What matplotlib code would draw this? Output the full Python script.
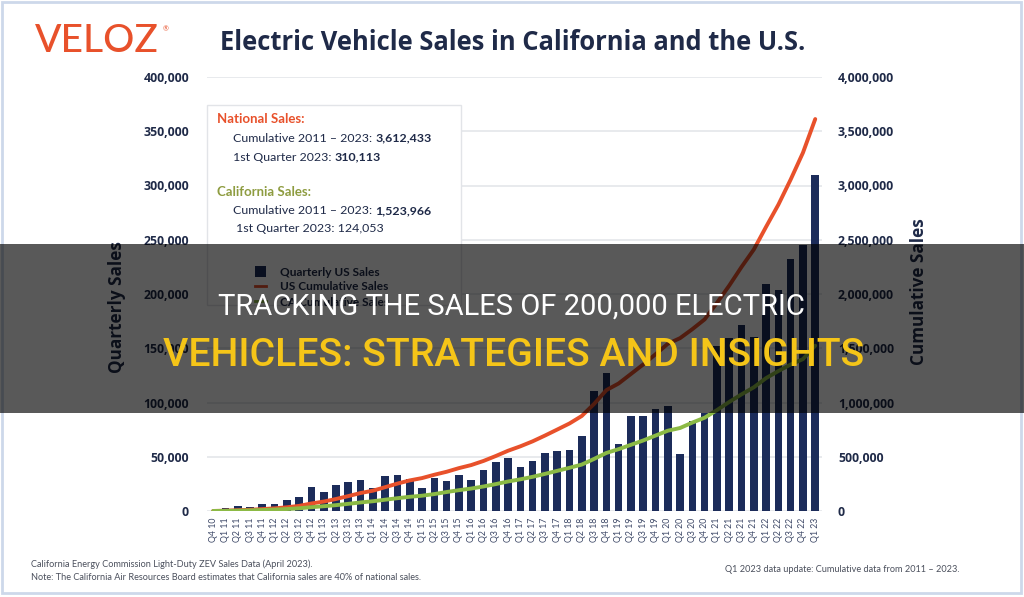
import matplotlib
matplotlib.use("Agg")
import matplotlib.pyplot as plt
from matplotlib.patches import Rectangle
from matplotlib.lines import Line2D
from matplotlib.ticker import FuncFormatter
import numpy as np

quarters = ["Q4 10",
            "Q1 11", "Q2 11", "Q3 11", "Q4 11",
            "Q1 12", "Q2 12", "Q3 12", "Q4 12",
            "Q1 13", "Q2 13", "Q3 13", "Q4 13",
            "Q1 14", "Q2 14", "Q3 14", "Q4 14",
            "Q1 15", "Q2 15", "Q3 15", "Q4 15",
            "Q1 16", "Q2 16", "Q3 16", "Q4 16",
            "Q1 17", "Q2 17", "Q3 17", "Q4 17",
            "Q1 18", "Q2 18", "Q3 18", "Q4 18",
            "Q1 19", "Q2 19", "Q3 19", "Q4 19",
            "Q1 20", "Q2 20", "Q3 20", "Q4 20",
            "Q1 21", "Q2 21", "Q3 21", "Q4 21",
            "Q1 22", "Q2 22", "Q3 22", "Q4 22",
            "Q1 23"]

us_quarterly = [300, 2500, 4300, 4000, 6500, 6800, 9800, 13200, 22100, 17500,
                23700, 26700, 28300, 21500, 32500, 33000, 29200, 21500, 30700, 27500,
                33500, 28200, 38000, 45400, 48700, 40600, 46100, 53000, 55500, 56200,
                69100, 110600, 127500, 61400, 87600, 87600, 93700, 96800, 52200, 82900,
                90000, 152000, 159500, 171500, 160700, 209500, 204000, 231800, 245500, 310113]

us_cumulative = [300, 2800, 7100, 11100, 17600, 24400, 34200, 47400, 69500, 87000,
                 110700, 137400, 165700, 187200, 219700, 252700, 281900, 303400, 334100, 361600,
                 395100, 423300, 461300, 506700, 555400, 596000, 642100, 695100, 750600, 806800,
                 875900, 986500, 1114000, 1175400, 1263000, 1350600, 1444300, 1541100, 1593300, 1676200,
                 1766200, 1918200, 2077700, 2249200, 2409900, 2619400, 2823400, 3055200, 3302300, 3612433]

ca_cumulative = [300, 1500, 3500, 6000, 9000, 13000, 18000, 25000, 35000, 44000,
                 54000, 66000, 79000, 90000, 104000, 118000, 131000, 141000, 156000, 175000,
                 192000, 207000, 226000, 248000, 272000, 292000, 315000, 342000, 370000, 398000,
                 428000, 480000, 535000, 570000, 610000, 650000, 695000, 740000, 765000, 815000,
                 860000, 930000, 1005000, 1075000, 1140000, 1225000, 1290000, 1350000, 1400000, 1523966]

left_ticks = [0, 50000, 100000, 150000, 200000, 250000, 300000, 350000, 400000]
right_ticks = [0, 500000, 1000000, 1500000, 2000000, 2500000, 3000000, 3500000, 4000000]

NAVY = "#1c2c5a"
RED = "#e8512b"
GREEN = "#8cba45"
OLIVE = "#8e9c40"
TXT = "#1f2a48"

W, H = 1024, 597
fig = plt.figure(figsize=(W / 100, H / 100), dpi=100)
fig.patch.set_facecolor("white")

def fx(px):
    return px / W

def fy(py):
    return 1 - py / H

ax = fig.add_axes([fx(207), fy(511), fx(822) - fx(207), fy(77) - fy(511)])
x = np.arange(len(quarters))
ax.bar(x, us_quarterly, width=0.62, color=NAVY, zorder=2)
ax.set_xlim(-0.5, len(quarters) - 0.45)
ax.set_ylim(0, 400000)
ax.set_yticks(left_ticks)
ax.yaxis.set_major_formatter(FuncFormatter(lambda v, p: f"{int(v):,}"))
ax.grid(axis="y", color="#e4e6ea", linewidth=1.2, zorder=0)
ax.set_axisbelow(True)
ax.set_xticks(x)
ax.set_xticklabels(quarters, rotation=90, fontsize=6.3, color="#3c4766", family="Lato")
for s in ax.spines.values():
    s.set_visible(False)
ax.tick_params(axis="both", length=0)
ax.tick_params(axis="x", pad=5)
ax.tick_params(axis="y", pad=13, labelsize=8.8, labelcolor=TXT)
for t in ax.get_yticklabels():
    t.set_fontfamily("Open Sans")
    t.set_fontweight("bold")

ax2 = ax.twinx()
ax2.plot(x, us_cumulative, color=RED, linewidth=2.8, solid_capstyle="round", zorder=3)
ax2.plot(x, ca_cumulative, color=GREEN, linewidth=2.8, solid_capstyle="round", zorder=3)
ax2.set_ylim(0, 4000000)
ax2.set_yticks(right_ticks)
ax2.yaxis.set_major_formatter(FuncFormatter(lambda v, p: f"{int(v):,}"))
for s in ax2.spines.values():
    s.set_visible(False)
ax2.tick_params(axis="both", length=0)
ax2.tick_params(axis="y", pad=11.5, labelsize=8.8, labelcolor=TXT)
for t in ax2.get_yticklabels():
    t.set_fontfamily("Open Sans")
    t.set_fontweight("bold")

# axis titles
fig.text(fx(117), fy(307), "Quarterly Sales", rotation=90, ha="center", va="center",
         fontsize=12.3, fontweight="bold", color=TXT, family="Open Sans")
fig.text(fx(919), fy(292), "Cumulative Sales", rotation=90, ha="center", va="center",
         fontsize=12.3, fontweight="bold", color=TXT, family="Open Sans")

# header
fig.text(fx(35), fy(41), "VELOZ", ha="left", va="center", fontsize=28, color=RED,
         family="Lato", fontweight="medium")
fig.text(fx(163), fy(29), "®", ha="left", va="center", fontsize=5, color=RED, family="Lato")
fig.text(fx(220), fy(43), "Electric Vehicle Sales in California and the U.S.", ha="left",
         va="center", fontsize=18.4, fontweight="bold", color=TXT, family="Open Sans")

# annotation box
fig.patches.append(Rectangle((fx(207), fy(305)), fx(461) - fx(207), fy(105) - fy(305),
                             transform=fig.transFigure, facecolor="white",
                             edgecolor="#e2e4e8", linewidth=1.0, zorder=1))

renderer = fig.canvas.get_renderer()

def mixed(px, py, normal, bold, size=8.9):
    t = fig.text(fx(px), fy(py), normal, ha="left", va="center", fontsize=size,
                 color=TXT, family="Lato", zorder=3)
    if bold:
        bb = t.get_window_extent(renderer)
        fig.text(bb.x1 / W, fy(py), bold, ha="left", va="center", fontsize=size,
                 color=TXT, family="Lato", fontweight="bold", zorder=3)

fig.text(fx(217), fy(119), "National Sales:", ha="left", va="center", fontsize=9.5,
         fontweight="bold", color=RED, family="Lato", zorder=3)
mixed(233, 138, "Cumulative 2011 \u2013 2023: ", "3,612,433")
mixed(233, 157, "1st Quarter 2023: ", "310,113")
fig.text(fx(217), fy(192), "California Sales:", ha="left", va="center", fontsize=9.5,
         fontweight="bold", color=OLIVE, family="Lato", zorder=3)
mixed(233, 211, "Cumulative 2011 \u2013 2023: ", "1,523,966")
mixed(236, 229, "1st Quarter 2023: 124,053", None)

# legend
fig.patches.append(Rectangle((fx(255), fy(277)), fx(11), 11 / H, transform=fig.transFigure,
                             facecolor=NAVY, edgecolor="none", zorder=3))
fig.lines.append(Line2D([fx(255), fx(266)], [fy(286), fy(286)], transform=fig.transFigure,
                        color=RED, linewidth=2, zorder=3))
fig.lines.append(Line2D([fx(255), fx(266)], [fy(301), fy(301)], transform=fig.transFigure,
                        color=GREEN, linewidth=2, zorder=3))
for py, lab in [(272, "Quarterly US Sales"), (287, "US Cumulative Sales"), (302, "CA Cumulative Sales")]:
    fig.text(fx(280), fy(py), lab, ha="left", va="center", fontsize=8.6, fontweight="bold",
             color=TXT, family="Lato", zorder=3)

# footer
fig.text(fx(31), fy(564), "California Energy Commission Light-Duty ZEV Sales Data (April 2023).",
         ha="left", va="center", fontsize=6.6, color="#4a4f5c", family="Lato")
fig.text(fx(31), fy(577), "Note: The California Air Resources Board estimates that California sales are 40% of national sales.",
         ha="left", va="center", fontsize=6.6, color="#4a4f5c", family="Lato")
fig.text(fx(725), fy(570), "Q1 2023 data update: Cumulative data from 2011 \u2013 2023.",
         ha="left", va="center", fontsize=6.6, color="#4a4f5c", family="Lato")

# frame
fig.patches.append(Rectangle((fx(1.5), fy(593)), fx(1019), fy(1.5) - fy(593),
                             transform=fig.transFigure, facecolor="none",
                             edgecolor="#cdd8ea", linewidth=2, zorder=2))

# overlay banner
fig.patches.append(Rectangle((0, fy(413)), 1, fy(244) - fy(413), transform=fig.transFigure,
                             facecolor="black", alpha=0.65, edgecolor="none", zorder=5))
fig.text(fx(511), fy(307), "TRACKING THE SALES OF 200,000 ELECTRIC", ha="center", va="center",
         fontsize=21, color="white", family="Roboto", zorder=6)
fig.text(fx(514), fy(355), "VEHICLES: STRATEGIES AND INSIGHTS", ha="center", va="center",
         fontsize=28.2, color="#f5c518", family="Roboto", fontweight="medium", zorder=6)

fig.savefig("out.png", dpi=100, facecolor="white")
